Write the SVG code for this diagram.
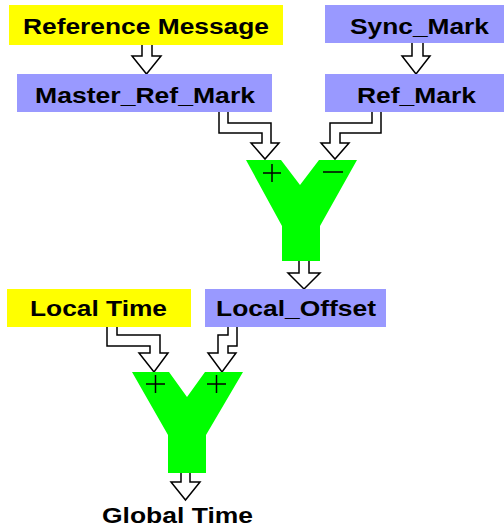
<svg xmlns="http://www.w3.org/2000/svg" width="504" height="529" viewBox="0 0 504 529">
<style>
.yellow{fill:#FFFF00}
.blue{fill:#9999FF}
.green{fill:#00FF00}
.lbl{font-family:"Liberation Sans",Arial,sans-serif;font-weight:bold;font-size:22.5px;fill:#000}
.arr{fill:#fff;stroke:#000;stroke-width:1.5;stroke-linejoin:miter}
.sign{stroke:#000;stroke-width:1.5;fill:none}
</style>
<rect width="504" height="529" fill="#fff"/>
<g id="connectors">
<path class="arr" d="M142,45 V56 H132 L146.5,74 L161,56 H152 V45"/>
<path class="arr" d="M412,43 V56 H402 L416,74 L430,56 H423 V43"/>
<path class="arr" d="M219,112 V133 H262 V143 H251 L265,159 L279,143 H271 V123 H228 V112"/>
<path class="arr" d="M381,112 V133 H340 V143 H349 L335,159 L321,143 H330 V123 H372 V112"/>
<path class="arr" d="M299,260 V273 H288 L304,289 L320,273 H309 V260"/>
<path class="arr" d="M107,327 V346 H150 V353 H139 L154,372 L168,353 H160 V335 H117 V327"/>
<path class="arr" d="M237,327 V346 H228 V353 H236 L222,372 L208,353 H218 V335 H228 V327"/>
<path class="arr" d="M181,473 V482 H171 L185.5,500 L200,482 H190 V473"/>
</g>
<g id="reference-message">
<rect class="yellow" x="9" y="5" width="274" height="40"/>
<text class="lbl" x="23" y="34" textLength="246" lengthAdjust="spacingAndGlyphs">Reference Message</text>
</g>
<g id="sync-mark">
<rect class="blue" x="325" y="5" width="179" height="38"/>
<text class="lbl" x="350" y="34" textLength="139" lengthAdjust="spacingAndGlyphs">Sync_Mark</text>
</g>
<g id="master-ref-mark">
<rect class="blue" x="17" y="74" width="255" height="38"/>
<text class="lbl" x="35" y="103" textLength="220" lengthAdjust="spacingAndGlyphs">Master_Ref_Mark</text>
</g>
<g id="ref-mark">
<rect class="blue" x="325" y="74" width="179" height="38"/>
<text class="lbl" x="357" y="103" textLength="119" lengthAdjust="spacingAndGlyphs">Ref_Mark</text>
</g>
<g id="sum1">
<polygon class="green" points="246,160 281,160 300,185 319,160 357,160 320,226 320,261 282,261 282,226"/>
<path class="sign" d="M263,173 H281 M272,164 V182"/>
<path class="sign" d="M323,172 H343"/>
</g>
<g id="local-time">
<rect class="yellow" x="7" y="289" width="184" height="38"/>
<text class="lbl" x="30" y="316" textLength="137" lengthAdjust="spacingAndGlyphs">Local Time</text>
</g>
<g id="local-offset">
<rect class="blue" x="205" y="289" width="181" height="38"/>
<text class="lbl" x="216" y="316" textLength="160" lengthAdjust="spacingAndGlyphs">Local_Offset</text>
</g>
<g id="sum2">
<polygon class="green" points="132,372 169,372 187,397 205,372 243,372 206,435 206,473 168,473 168,435"/>
<path class="sign" d="M146,384 H165 M155.5,375 V393"/>
<path class="sign" d="M207,384 H226 M216.5,375 V393"/>
</g>
<g id="global-time">
<text class="lbl" x="102" y="523" textLength="151" lengthAdjust="spacingAndGlyphs">Global Time</text>
</g>
</svg>
